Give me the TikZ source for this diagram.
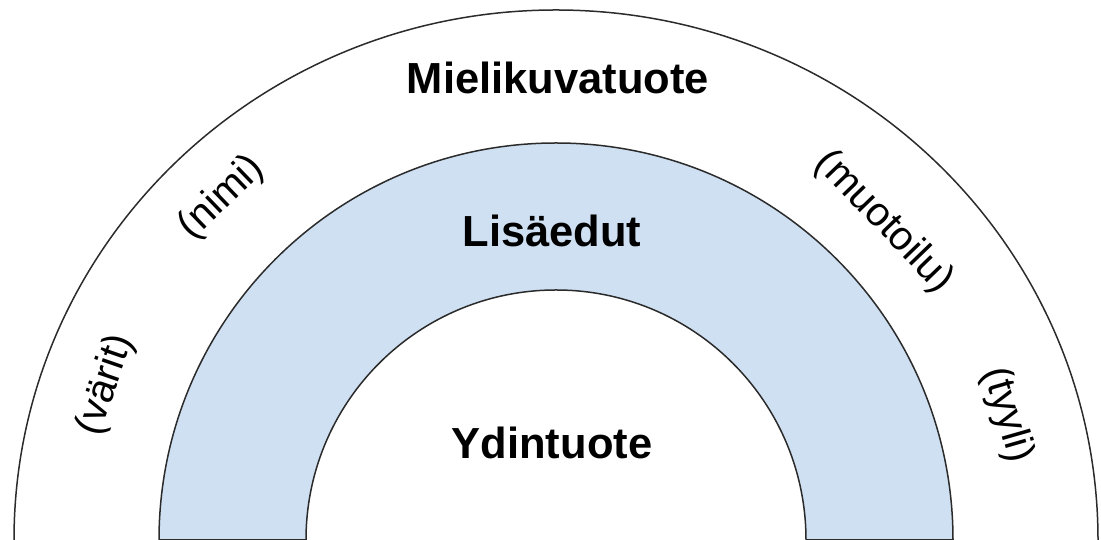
\documentclass[tikz,border=0pt]{standalone}
\usepackage{fontspec}
\setmainfont{Liberation Sans}
\definecolor{ringblue}{HTML}{CFE0F3}
\definecolor{ringline}{HTML}{2B2B2B}
\begin{document}
\begin{tikzpicture}[x=1pt,y=1pt,
  ringedge/.style={draw=ringline,line width=1.5pt},
  bigtitle/.style={font=\fontsize{43.5}{50}\selectfont\bfseries,anchor=base,inner sep=0pt},
  sidenote/.style={font=\fontsize{40.5}{46}\selectfont,inner sep=0pt}]
\useasboundingbox (0,0) rectangle (1101,540);
\coordinate (c) at (556,0);
% outer layer
\draw[ringedge] (14,0) arc[start angle=180,end angle=0,x radius=542,y radius=530];
% middle (shaded) ring
\filldraw[ringedge,fill=ringblue] (159,0) arc[start angle=180,end angle=0,radius=397]
  -- (806,0) arc[start angle=0,end angle=180,radius=250] -- cycle;
% titles
\node[bigtitle] (mieli) at (558,446) {Mielikuvatuote};
\node[bigtitle] (lisa) at (552,293) {Lisäedut};
\node[bigtitle] (ydin) at (552,81) {Ydintuote};
% notes along the outer ring
\node[sidenote,rotate=44] (nimi) at (222,342) {(nimi)};
\node[sidenote,rotate=-46] (muoto) at (884,318) {(muotoilu)};
\node[sidenote,rotate=71] (varit) at (106,155) {(värit)};
\node[sidenote,rotate=-74] (tyyli) at (1007,125) {(tyyli)};
\end{tikzpicture}
\end{document}
